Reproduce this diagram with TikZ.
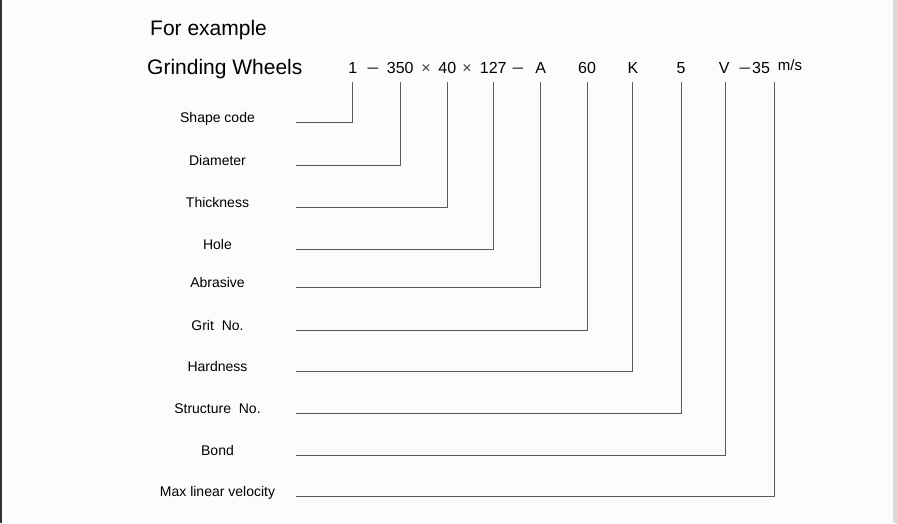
\documentclass[tikz,border=0pt]{standalone}
\usepackage{fontspec}
\setmainfont{Liberation Sans}
\begin{document}
\begin{tikzpicture}[x=1pt,y=-1pt,
  lbl/.style={anchor=base,inner sep=0pt,font=\fontsize{14}{16}\selectfont,text=black},
  code/.style={anchor=base,inner sep=0pt,font=\fontsize{16}{18}\selectfont,text=black},
  dsh/.style={anchor=base,inner sep=0pt,font=\fontsize{19}{20}\selectfont,text=black!80},
  head/.style={anchor=base west,inner sep=0pt,font=\fontsize{21}{24}\selectfont,text=black},
  conn/.style={draw=black!65,line width=0.9pt}]
\useasboundingbox (0,0) rectangle (897,523);
\fill[white!99!black] (0,0) rectangle (897,523);
\fill[black!80] (0,0) rectangle (1.5,523);
\fill[black!15] (893,0) rectangle (897,523);

\node[head] (fe) at (150,35) {For example};
\node[head] (gw) at (147,74) {Grinding Wheels};

\node[code] (c1) at (352.7,73.5) {1};
\node[dsh] (d1) at (373,73.5) {–};
\node[code] (c2) at (400.3,73.5) {350};
\node[code,text=black!75] (x1) at (426,73.5) {×};
\node[code] (c3) at (447.3,73.5) {40};
\node[code,text=black!75] (x2) at (467,73.5) {×};
\node[code] (c4) at (493.3,73.5) {127};
\node[dsh] (d2) at (518,73.5) {–};
\node[code] (c5) at (540.7,73.5) {A};
\node[code] (c6) at (587,73.5) {60};
\node[code] (c7) at (633,73.5) {K};
\node[code] (c8) at (681,73.5) {5};
\node[code] (c9) at (724.3,73.5) {V};
\node[dsh] (d3) at (745,73.5) {–};
\node[code] (c10) at (761,73.5) {35};
\node[code,font=\fontsize{15}{17}\selectfont] (ms) at (790,70.5) {m/s};

\foreach \i/\t/\x/\y in {1/Shape code/352.7/122,
                        2/Diameter/400.3/165.5,
                        3/Thickness/447.3/207.5,
                        4/Hole/493.3/249.5,
                        5/Abrasive/540.7/287,
                        6/Grit\ \ No./587/330.7,
                        7/Hardness/632.7/371,
                        8/Structure\ \ No./681/413.7,
                        9/Bond/725/455.3,
                        10/Max linear velocity/774.7/496}{
  \node[lbl] (l\i) at (217.5,\y) {\t};
  \coordinate (t\i) at (\x,82);
  \coordinate (s\i) at (295.5,\y);
  \draw[conn] (t\i) |- (s\i);
}
\end{tikzpicture}
\end{document}
